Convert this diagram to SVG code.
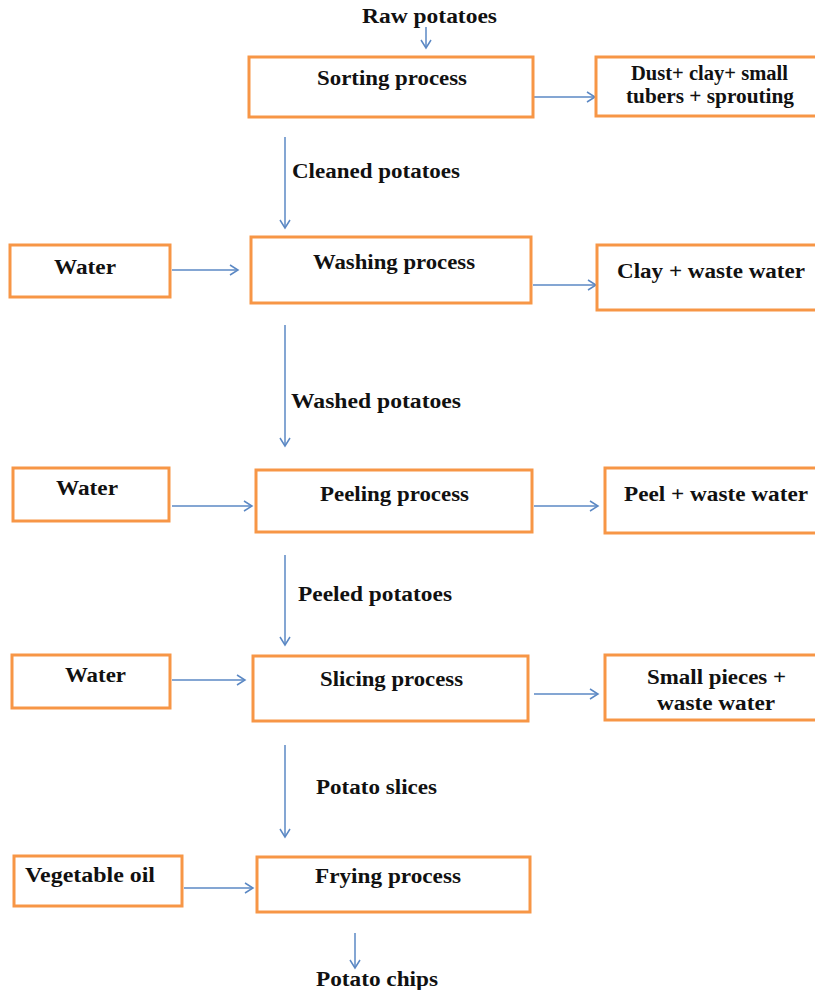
<svg xmlns="http://www.w3.org/2000/svg" width="815" height="990" viewBox="0 0 815 990">
<style>
.box{fill:#fff;stroke:#f79646;stroke-width:3}
.t{font-family:"Liberation Serif","Times New Roman",serif;font-weight:bold;font-size:20px;fill:#111}
.c{stroke:#5b88c4;stroke-width:1.5;fill:none;marker-end:url(#ah)}
</style>
<defs>
<marker id="ah" markerWidth="12" markerHeight="12" refX="9" refY="6" orient="auto" markerUnits="userSpaceOnUse">
<path d="M1,1 L9,6 L1,11" fill="none" stroke="#5b88c4" stroke-width="1.5"/>
</marker>
</defs>
<rect width="815" height="990" fill="#fff"/>
<g id="connectors">
<line class="c" x1="426" y1="27" x2="426" y2="48"/>
<line class="c" x1="534" y1="97" x2="595" y2="97"/>
<line class="c" x1="285" y1="137" x2="285" y2="228"/>
<line class="c" x1="172" y1="270" x2="238" y2="270"/>
<line class="c" x1="533" y1="285" x2="596" y2="285"/>
<line class="c" x1="285" y1="325" x2="285" y2="446"/>
<line class="c" x1="172" y1="506" x2="252" y2="506"/>
<line class="c" x1="534" y1="506" x2="598" y2="506"/>
<line class="c" x1="285" y1="555" x2="285" y2="645"/>
<line class="c" x1="172" y1="680" x2="245" y2="680"/>
<line class="c" x1="534" y1="694" x2="598" y2="694"/>
<line class="c" x1="285" y1="745" x2="285" y2="837"/>
<line class="c" x1="184" y1="888" x2="253" y2="888"/>
<line class="c" x1="355" y1="933" x2="355" y2="968"/>
</g>
<g id="raw"><text class="t" x="362" y="23" textLength="135" lengthAdjust="spacingAndGlyphs">Raw potatoes</text></g>
<g id="sorting"><rect class="box" x="249" y="57" width="284" height="60"/><text class="t" x="317" y="85" textLength="150" lengthAdjust="spacingAndGlyphs">Sorting process</text></g>
<g id="dust"><rect class="box" x="596" y="57" width="222" height="59"/><text class="t" x="631" y="80" textLength="157" lengthAdjust="spacingAndGlyphs">Dust+ clay+ small</text><text class="t" x="626" y="103" textLength="168" lengthAdjust="spacingAndGlyphs">tubers + sprouting</text></g>
<g id="lbl-cleaned"><text class="t" x="292" y="178" textLength="168" lengthAdjust="spacingAndGlyphs">Cleaned potatoes</text></g>
<g id="water1"><rect class="box" x="10" y="245" width="160" height="52"/><text class="t" x="54" y="274" textLength="62" lengthAdjust="spacingAndGlyphs">Water</text></g>
<g id="washing"><rect class="box" x="251" y="237" width="280" height="66"/><text class="t" x="313" y="269" textLength="162" lengthAdjust="spacingAndGlyphs">Washing process</text></g>
<g id="clay"><rect class="box" x="597" y="245" width="221" height="65"/><text class="t" x="617" y="278" textLength="188" lengthAdjust="spacingAndGlyphs">Clay + waste water</text></g>
<g id="lbl-washed"><text class="t" x="291" y="408" textLength="170" lengthAdjust="spacingAndGlyphs">Washed potatoes</text></g>
<g id="water2"><rect class="box" x="13" y="468" width="156" height="53"/><text class="t" x="56" y="495" textLength="62" lengthAdjust="spacingAndGlyphs">Water</text></g>
<g id="peeling"><rect class="box" x="256" y="470" width="276" height="62"/><text class="t" x="320" y="501" textLength="149" lengthAdjust="spacingAndGlyphs">Peeling process</text></g>
<g id="peel"><rect class="box" x="605" y="468" width="213" height="65"/><text class="t" x="624" y="501" textLength="184" lengthAdjust="spacingAndGlyphs">Peel + waste water</text></g>
<g id="lbl-peeled"><text class="t" x="298" y="601" textLength="154" lengthAdjust="spacingAndGlyphs">Peeled potatoes</text></g>
<g id="water3"><rect class="box" x="12" y="655" width="158" height="53"/><text class="t" x="65" y="682" textLength="61" lengthAdjust="spacingAndGlyphs">Water</text></g>
<g id="slicing"><rect class="box" x="253" y="656" width="275" height="65"/><text class="t" x="320" y="686" textLength="143" lengthAdjust="spacingAndGlyphs">Slicing process</text></g>
<g id="small"><rect class="box" x="605" y="655" width="213" height="65"/><text class="t" x="647" y="684" textLength="139" lengthAdjust="spacingAndGlyphs">Small pieces +</text><text class="t" x="657" y="710" textLength="118" lengthAdjust="spacingAndGlyphs">waste water</text></g>
<g id="lbl-slices"><text class="t" x="316" y="794" textLength="121" lengthAdjust="spacingAndGlyphs">Potato slices</text></g>
<g id="oil"><rect class="box" x="14" y="856" width="168" height="50"/><text class="t" x="25" y="882" textLength="130" lengthAdjust="spacingAndGlyphs">Vegetable oil</text></g>
<g id="frying"><rect class="box" x="257" y="857" width="273" height="55"/><text class="t" x="315" y="883" textLength="146" lengthAdjust="spacingAndGlyphs">Frying process</text></g>
<g id="chips"><text class="t" x="316" y="986" textLength="122" lengthAdjust="spacingAndGlyphs">Potato chips</text></g>
</svg>
